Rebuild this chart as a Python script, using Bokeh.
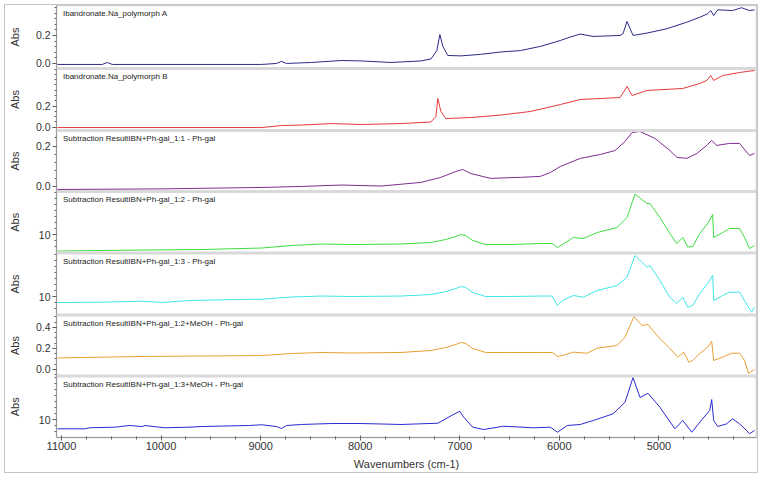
import numpy as np
from bokeh.plotting import figure
from bokeh.models import (Range1d, FixedTicker, SingleIntervalTicker, PrintfTickFormatter,
                          Label, BoxAnnotation, LinearAxis)
from bokeh.embed import file_html
from bokeh.resources import INLINE

FONT = "Liberation Sans"

# ---------------- data ----------------
titles = [
    "Ibandronate.Na_polymorph A",
    "Ibandronate.Na_polymorph B",
    "Subtraction ResultIBN+Ph-gal_1:1 - Ph-gal",
    "Subtraction ResultIBN+Ph-gal_1:2 - Ph-gal",
    "Subtraction ResultIBN+Ph-gal_1:3 - Ph-gal",
    "Subtraction ResultIBN+Ph-gal_1:2+MeOH - Ph-gal",
    "Subtraction ResultIBN+Ph-gal_1:3+MeOH - Ph-gal",
]

wn_a = [11040, 10590, 10540, 10490, 9590, 8990, 8840, 8790, 8740, 8490, 8190, 7990, 7690, 7390, 7290,
        7230, 7200, 7170, 7120, 6990, 6790, 6590, 6390, 6190, 5990, 5890, 5790, 5660, 5390, 5360,
        5320, 5260, 5120, 4920, 4720, 4590, 4510, 4480, 4450, 4410, 4260, 4170, 4090, 4040]
abs_a = [-0.007, -0.007, 0.007, -0.007, -0.007, -0.007, 0.0, 0.015, 0.0, 0.007, 0.021, 0.018, 0.007, 0.018, 0.032,
         0.092, 0.207, 0.122, 0.057, 0.054, 0.065, 0.082, 0.092, 0.122, 0.164, 0.189, 0.21, 0.193, 0.2, 0.214,
         0.3, 0.2, 0.217, 0.248, 0.295, 0.33, 0.355, 0.378, 0.342, 0.383, 0.378, 0.398, 0.378, 0.383]

wn_b = [11040, 8990, 8790, 8590, 8290, 7990, 7590, 7290, 7240, 7220, 7190, 7140, 6890, 6590, 6290,
        5990, 5790, 5390, 5320, 5270, 5120, 4760, 4590, 4520, 4480, 4450, 4360, 4190, 4040]
abs_b = [-0.005, -0.005, 0.014, 0.019, 0.033, 0.024, 0.033, 0.048, 0.1, 0.271, 0.148, 0.081, 0.09, 0.114, 0.148,
         0.214, 0.262, 0.281, 0.386, 0.3, 0.348, 0.367, 0.414, 0.443, 0.49, 0.443, 0.49, 0.519, 0.538]

wn_c = [11040, 9990, 8990, 8590, 8190, 7790, 7390, 7190, 7040, 6970, 6890, 6690, 6390, 6190, 6090,
        5990, 5790, 5590, 5440, 5340, 5270, 5190, 5040, 4890, 4820, 4720, 4620, 4520, 4470, 4420,
        4290, 4190, 4090, 4040]
abs_c = [-0.015, -0.012, -0.005, 0.0, 0.007, 0.002, 0.02, 0.045, 0.074, 0.084, 0.064, 0.04, 0.045, 0.05, 0.069,
         0.099, 0.139, 0.158, 0.178, 0.223, 0.267, 0.272, 0.238, 0.178, 0.144, 0.139, 0.163, 0.203, 0.228, 0.203,
         0.213, 0.213, 0.153, 0.163]

wn_d = [11040, 10190, 9590, 8990, 8690, 8390, 8090, 7590, 7290, 7140, 7040, 6990, 6940, 6870, 6740,
        6490, 6190, 6070, 6020, 5970, 5860, 5760, 5620, 5420, 5320, 5240, 5120, 5090, 4990, 4890,
        4820, 4760, 4710, 4660, 4590, 4510, 4460, 4450, 4360, 4290, 4190, 4140, 4090, 4040]
abs_d = [7.25, 7.42, 7.5, 7.75, 8.17, 8.42, 8.33, 8.42, 8.67, 9.17, 9.67, 10.0, 9.83, 9.0, 8.33,
         8.33, 8.5, 8.5, 7.83, 8.33, 9.5, 9.33, 10.33, 11.17, 12.83, 16.75, 15.17, 15.17, 12.83, 10.17,
         8.5, 9.5, 7.92, 8.0, 10.17, 11.83, 13.33, 9.5, 10.33, 11.0, 11.0, 9.5, 7.67, 8.17]

wn_e = [11040, 10590, 10190, 9990, 9720, 9260, 8990, 8690, 8390, 8090, 7590, 7290, 7140, 7040, 6990,
        6940, 6870, 6740, 6490, 6190, 6070, 6020, 5970, 5860, 5760, 5620, 5420, 5320, 5240, 5120,
        5090, 4990, 4890, 4820, 4760, 4710, 4660, 4590, 4510, 4460, 4450, 4360, 4290, 4190, 4140,
        4070, 4040]
abs_e = [9.0, 9.05, 9.22, 9.0, 9.33, 9.5, 9.55, 9.92, 10.08, 10.0, 10.08, 10.33, 10.83, 11.33, 11.67,
         11.5, 10.67, 10.0, 10.0, 10.08, 10.08, 8.5, 9.33, 10.17, 9.88, 11.0, 11.83, 13.22, 16.83, 14.88,
         15.17, 12.67, 9.88, 8.83, 9.88, 8.22, 8.5, 10.5, 12.17, 13.5, 9.33, 10.17, 10.72, 10.72, 9.33,
         7.38, 8.22]

wn_f = [11040, 10190, 8990, 8690, 8390, 8090, 7590, 7290, 7140, 7040, 6990, 6940, 6870, 6740, 6490,
        6190, 6070, 6020, 5970, 5860, 5720, 5620, 5420, 5340, 5250, 5170, 5110, 5020, 4890, 4810,
        4750, 4700, 4660, 4590, 4510, 4470, 4450, 4360, 4270, 4190, 4140, 4100, 4040]
abs_f = [0.11, 0.124, 0.133, 0.152, 0.162, 0.157, 0.162, 0.181, 0.21, 0.238, 0.257, 0.248, 0.2, 0.162, 0.162,
         0.162, 0.162, 0.124, 0.133, 0.165, 0.155, 0.203, 0.229, 0.308, 0.505, 0.419, 0.429, 0.324, 0.2, 0.117,
         0.165, 0.07, 0.086, 0.152, 0.212, 0.27, 0.086, 0.117, 0.155, 0.155, 0.086, -0.038, 0.0]

wn_g = [11040, 10760, 10720, 10460, 10320, 10190, 10160, 10020, 9960, 9720, 9590, 9120, 8990, 8840, 8790,
        8740, 8590, 8290, 7990, 7590, 7220, 7070, 7000, 6960, 6870, 6760, 6560, 6260, 6090, 6020,
        5920, 5790, 5660, 5460, 5340, 5260, 5190, 5110, 4990, 4840, 4760, 4670, 4570, 4490, 4470,
        4450, 4410, 4320, 4260, 4190, 4120, 4090, 4040]
abs_g = [8.45, 8.45, 8.62, 8.72, 9.0, 8.83, 9.0, 8.72, 8.62, 8.72, 8.83, 9.0, 9.12, 8.83, 8.5,
         9.0, 9.17, 9.33, 9.33, 9.17, 9.38, 10.78, 11.38, 10.38, 8.72, 8.33, 8.88, 8.62, 8.72, 7.88,
         9.0, 9.17, 9.83, 10.95, 12.88, 17.0, 13.67, 14.38, 12.05, 8.45, 9.83, 7.88, 9.95, 11.5, 13.33,
         9.83, 8.83, 9.28, 10.12, 9.28, 8.17, 7.62, 8.17]

x_label = "Wavenumbers (cm-1)"
y_label = "Abs"

series = [(wn_a, abs_a), (wn_b, abs_b), (wn_c, abs_c), (wn_d, abs_d),
          (wn_e, abs_e), (wn_f, abs_f), (wn_g, abs_g)]

# ---------------- layout / styling (page pixels) ----------------
OX, OY = 5, 5                      # canvas origin on the page (margin)
W, H = 752, 467                    # canvas size -> border ring at x=4/757, y=4/472
FL, FR, FT, FB = 54, 756, 5, 437   # plot frame edges on the page
FH = FB - FT
colors = ["#2b2b86", "#e5393d", "#7d2d8c", "#3fdc3f", "#3fe6e6", "#e8a032", "#2a2ad2"]
vranges = [(-0.036, 0.414), (-0.033, 0.557), (-0.025, 0.277), (6.92, 17.17),
           (6.92, 17.25), (-0.062, 0.519), (7.0, 17.25)]
bands = [(5, 68), (68, 130), (130, 191), (191, 252.5), (252.5, 314.5), (314.5, 375.5), (375.5, 437)]
majors = [[0.0, 0.2], [0.0, 0.2], [0.0, 0.2], [10], [10], [0.0, 0.2, 0.4], [10]]
minor_steps = [0.04, 0.05, 0.04, 1.0, 1.0, 0.05, 1.0]
fmts = ["%.1f", "%.1f", "%.1f", "%d", "%d", "%.1f", "%d"]

x_range = Range1d(11050, 4020)
p = figure(width=W, height=H, x_range=x_range, y_range=Range1d(0, FH),
           min_border_left=FL - OX, min_border_right=OX + W - FR, min_border_top=FT - OY,
           min_border_bottom=OY + H - FB, toolbar_location=None, output_backend="svg",
           background_fill_color="white", border_fill_color="white",
           styles={"margin-left": "%dpx" % OX, "margin-top": "%dpx" % OY,
                   "box-shadow": "0 0 0 1px #c4c4c4"})
p.xgrid.visible = False
p.ygrid.visible = False
p.outline_line_color = "#cfcfcf"
p.outline_line_width = 1.5

def band_pos(screen_y):
    return FB - screen_y

major_pos, minor_pos, overrides = [], [], {}
abs_pos, abs_over = [], {}
for k, ((wn, ys), (lo, hi), (top, bot)) in enumerate(zip(series, vranges, bands)):
    s = (hi - lo) / (bot - top)
    name = "p%d" % k
    p.extra_y_ranges[name] = Range1d(lo - (FB - bot) * s, hi + (top - FT) * s)
    p.line(wn, ys, y_range_name=name, line_color=colors[k], line_width=1)

    def to_pos(v):
        return round((FB - bot) + (v - lo) / s, 3)
    for v in majors[k]:
        pos = to_pos(v)
        major_pos.append(pos)
        overrides[pos] = fmts[k] % v
    step = minor_steps[k]
    for v in np.arange(np.ceil(lo / step) * step, hi, step):
        pos = to_pos(v)
        if (FB - bot) + 0.5 < pos < (FB - top) - 0.5:
            minor_pos.append(pos)

    if k > 0:
        c = band_pos(top)
        p.add_layout(BoxAnnotation(bottom=c - 1.5, top=c + 1.5, fill_color="#d9d9d9",
                                   fill_alpha=1.0, line_color=None))
    p.add_layout(Label(x=10985, y=band_pos(top + 3.5), text=titles[k], text_font=FONT,
                       text_font_size="8px", text_color="#222222",
                       text_baseline="top", text_align="left"))
    cpos = round(band_pos((top + bot) / 2), 3)
    abs_pos.append(cpos)
    abs_over[cpos] = y_label

yax = p.yaxis[0]
yax.ticker = FixedTicker(ticks=major_pos, minor_ticks=minor_pos)
yax.major_label_overrides = overrides
yax.major_label_text_font = FONT
yax.major_label_text_font_size = "10.5px"
yax.major_label_text_color = "#333333"
yax.major_label_standoff = 2
yax.major_tick_out = 4
yax.major_tick_in = 0
yax.minor_tick_out = 2
yax.minor_tick_in = 0
yax.axis_line_color = "#9a9a9a"
yax.major_tick_line_color = "#555555"
yax.minor_tick_line_color = "#666666"

# second (outer) left axis carrying the per-panel "Abs" labels
abs_axis = LinearAxis(ticker=FixedTicker(ticks=abs_pos, minor_ticks=[]),
                      major_label_overrides=abs_over, major_label_orientation="vertical",
                      axis_line_color=None, major_tick_line_color=None,
                      minor_tick_line_color=None, major_tick_out=0, major_tick_in=0,
                      major_label_standoff=12, major_label_text_font=FONT,
                      major_label_text_font_size="11px", major_label_text_color="#333333")
p.add_layout(abs_axis, "left")

xax = p.xaxis[0]
xax.ticker = SingleIntervalTicker(interval=1000, num_minor_ticks=4)
xax.formatter = PrintfTickFormatter(format="%d")
xax.axis_label = x_label
xax.axis_label_text_font = FONT
xax.axis_label_text_font_size = "11px"
xax.axis_label_text_font_style = "normal"
xax.axis_label_text_color = "#333333"
xax.axis_label_standoff = 5
xax.major_label_text_font = FONT
xax.major_label_text_font_size = "11px"
xax.major_label_text_color = "#333333"
xax.major_label_standoff = 1
xax.major_tick_out = 3
xax.major_tick_in = 2
xax.minor_tick_out = 2
xax.minor_tick_in = 1
xax.axis_line_color = "#9a9a9a"
xax.major_tick_line_color = "#555555"
xax.minor_tick_line_color = "#666666"

open("out.html", "w").write(file_html(p, INLINE))
